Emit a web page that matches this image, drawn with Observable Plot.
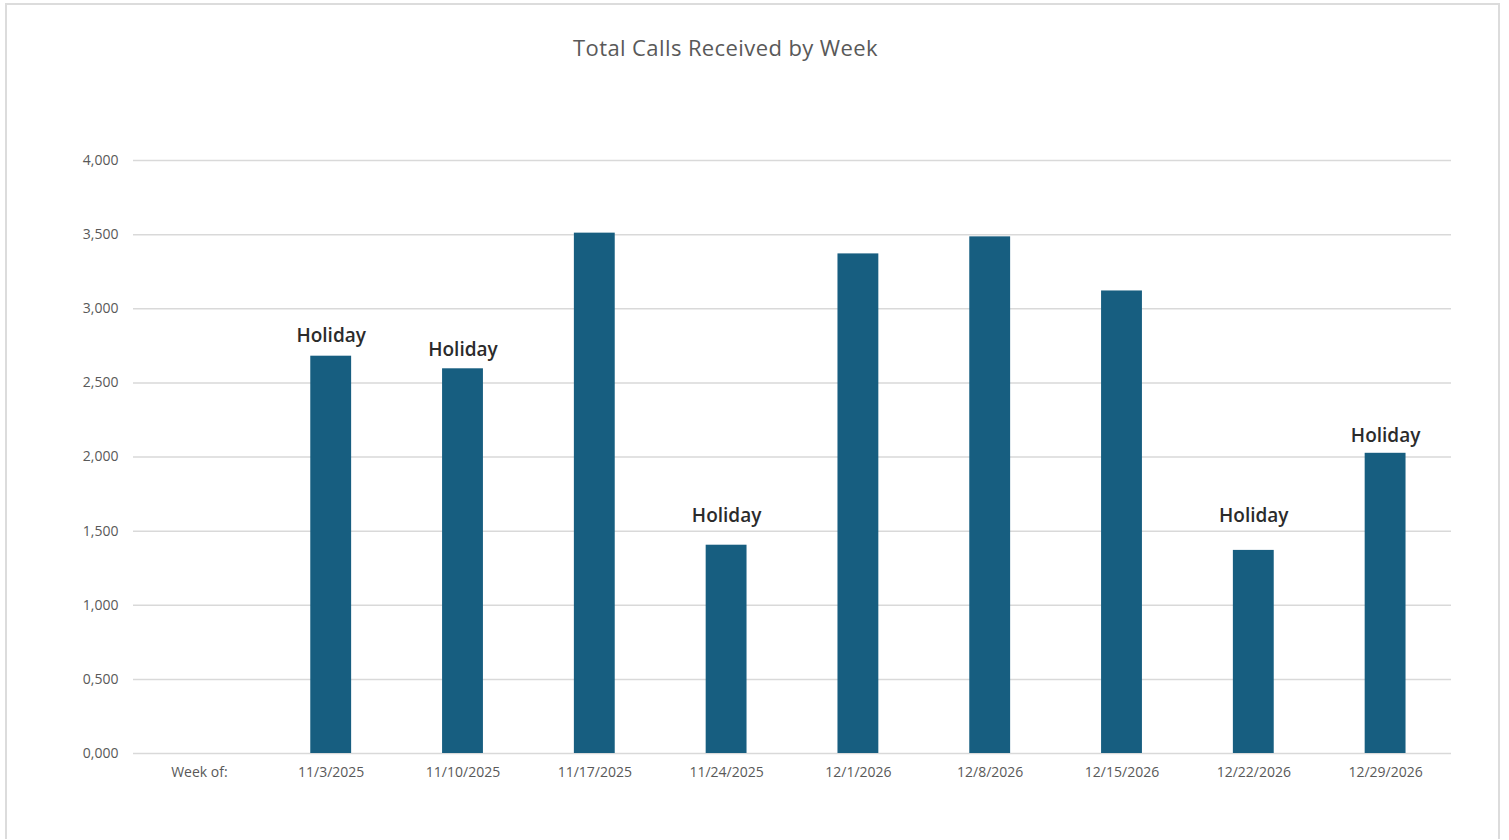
<!DOCTYPE html>
<html>
<head>
<meta charset="utf-8">
<script src="https://cdn.jsdelivr.net/npm/d3@7"></script>
<script src="https://cdn.jsdelivr.net/npm/@observablehq/plot@0.6"></script>
<style>
  html, body { margin: 0; padding: 0; background: #fff; }
  #frame {
    position: absolute; left: 5px; top: 3px; width: 1495px; height: 836px;
    border: 2px solid #dcdcdc; border-bottom: none; box-sizing: border-box;
  }
  #title {
    position: absolute; left: 0; top: 32px; width: 1451px; text-align: center;
    font-family: "Open Sans", Lato, sans-serif; font-size: 22px; color: #595959;
    letter-spacing: 0.4px;
  }
  #chart { position: absolute; left: 0; top: 0; }
</style>
</head>
<body>
<div id="frame"></div>
<div id="chart"></div>
<div id="title">Total Calls Received by Week</div>
<script>
const categories = ["Week of:", "11/3/2025", "11/10/2025", "11/17/2025", "11/24/2025",
  "12/1/2026", "12/8/2026", "12/15/2026", "12/22/2026", "12/29/2026"];
const weeks = ["11/3/2025", "11/10/2025", "11/17/2025", "11/24/2025",
  "12/1/2026", "12/8/2026", "12/15/2026", "12/22/2026", "12/29/2026"];
const calls = [2680, 2595, 3510, 1405, 3370, 3485, 3120, 1370, 2025];
const notes = ["Holiday", "Holiday", "", "Holiday", "", "", "", "Holiday", "Holiday"];
// value level at which each note label sits (in calls units)
const noteLevels = [2815, 2725, null, 1605, null, null, null, 1605, 2140];
const yTicks = [0, 500, 1000, 1500, 2000, 2500, 3000, 3500, 4000];
const yTickLabels = ["0,000", "0,500", "1,000", "1,500", "2,000", "2,500", "3,000", "3,500", "4,000"];

const rows = weeks.map((w, i) => ({week: w, calls: calls[i], note: notes[i], level: noteLevels[i]}));
const font = "'Open Sans', Lato, sans-serif";

const chart = Plot.plot({
  width: 1509,
  height: 840,
  marginLeft: 133,
  marginRight: 58,
  marginTop: 160,
  marginBottom: 87,
  style: {fontFamily: font, background: "transparent"},
  x: {domain: categories, paddingInner: 0.69, paddingOuter: 0.345, align: 0.5, round: false, label: null},
  y: {domain: [0, 4000], label: null},
  marks: [
    Plot.ruleY(yTicks, {stroke: "#d9d9d9", strokeWidth: 1.5}),
    Plot.barY(rows, {x: "week", y: "calls", fill: "#175e80"}),
    Plot.text(rows.filter(d => d.note), {
      x: "week", y: "level", text: "note", lineAnchor: "middle",
      fontSize: 19, fontWeight: 600, fill: "#2b2b2b", fontFamily: font
    }),
    Plot.axisY({
      ticks: yTicks, tickFormat: (d) => yTickLabels[yTicks.indexOf(d)],
      tickSize: 0, tickPadding: 15, fontSize: 14, fill: "#595959", label: null
    }),
    Plot.axisX({
      tickSize: 0, tickPadding: 14, fontSize: 14, fill: "#595959", label: null
    })
  ]
});
document.getElementById("chart").appendChild(chart);
</script>
</body>
</html>
